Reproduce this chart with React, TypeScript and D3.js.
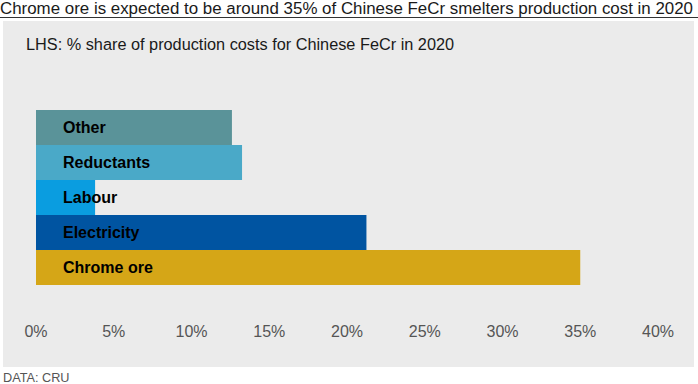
import React from "react";
import * as d3 from "d3";

const categories = ["Other", "Reductants", "Labour", "Electricity", "Chrome ore"];
const values = [12.6, 13.25, 3.8, 21.25, 35.0];
const colors = ["#5a9399", "#4aa9c8", "#0a9de0", "#0054a1", "#d5a617"];
const tickValues = [0, 5, 10, 15, 20, 25, 30, 35, 40];

const title = "Chrome ore is expected to be around 35% of Chinese FeCr smelters production cost in 2020";
const subtitle = "LHS: % share of production costs for Chinese FeCr in 2020";
const source = "DATA: CRU";

export default function App() {
  const W = 698, H = 384;
  const x = d3.scaleLinear().domain([0, 40]).range([36, 658]);
  const y = d3.scaleBand<string>().domain(categories).range([110, 285]).padding(0);
  const font = "'Liberation Sans', Arial, sans-serif";
  return (
    <div style={{ position: "absolute", left: 0, top: 0 }}>
      <svg width={W} height={H} style={{ display: "block", fontFamily: font }}>
        <rect x={0} y={0} width={W} height={H} fill="#ffffff" />
        <text x={0} y={14} fontSize={15.8} textLength={693} lengthAdjust="spacingAndGlyphs" fill="#1a1a1a">{title}</text>
        <line x1={0} x2={W} y1={17.5} y2={17.5} stroke="#333" strokeWidth={1} />
        <rect x={3} y={21} width={691} height={346} fill="#ebebeb" />
        <text x={26} y={50} fontSize={16.3} fill="#1a1a1a">{subtitle}</text>
        {categories.map((c, i) => (
          <g key={c}>
            <rect
              x={x(0)}
              y={y(c)!}
              width={x(values[i]) - x(0)}
              height={y.bandwidth()}
              fill={colors[i]}
            />
            <text
              x={63}
              y={y(c)! + y.bandwidth() / 2}
              dy="0.36em"
              fontSize={16}
              fontWeight="bold"
              fill="#000"
            >
              {c}
            </text>
          </g>
        ))}
        {tickValues.map((t) => (
          <text
            key={t}
            x={x(t)}
            y={337}
            textAnchor="middle"
            fontSize={16}
            fill="#555"
          >
            {t + "%"}
          </text>
        ))}
        <text x={3} y={382} fontSize={12.7} fill="#555">{source}</text>
      </svg>
    </div>
  );
}
